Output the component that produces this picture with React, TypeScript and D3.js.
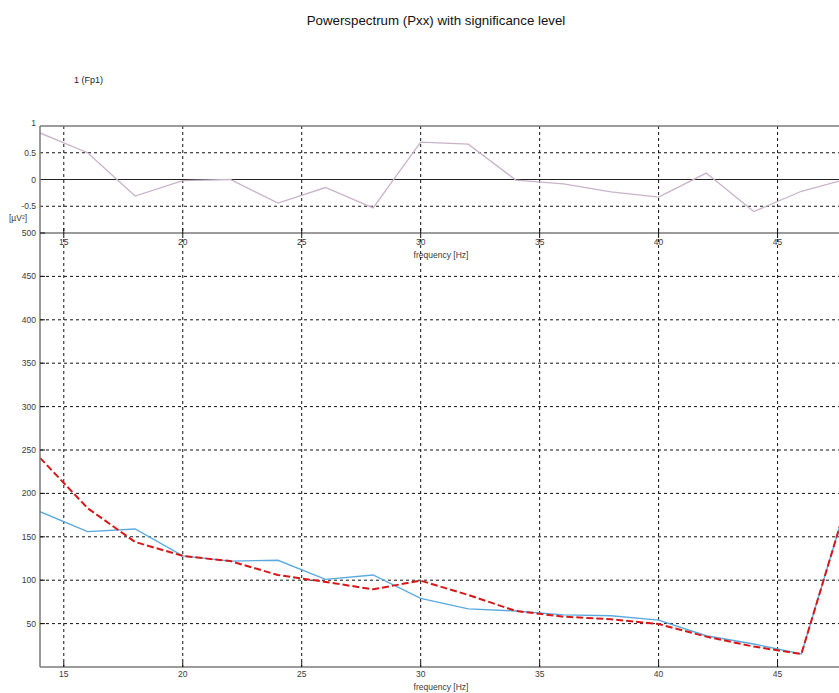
import React from "react";
import * as d3 from "d3";

const title = "Powerspectrum (Pxx) with significance level";
const channelLabel = "1 (Fp1)";
const xLabel = "frequency [Hz]";
const yUnit = "[µV²]";

const freqs = [14, 16, 18, 20, 22, 24, 26, 28, 30, 32, 34, 36, 38, 40, 42, 44, 46, 48];
const diffValues = [0.87, 0.5, -0.31, -0.02, 0.0, -0.44, -0.15, -0.53, 0.7, 0.66, -0.01, -0.08, -0.23, -0.33, 0.12, -0.6, -0.22, 0.02];
const pxxValues = [179, 156, 159, 128, 122, 123, 101, 106, 79, 67, 64.5, 60, 59, 54, 36, 26.5, 15, 197];
const sigValues = [241, 183, 144, 128, 122, 106, 98, 89.5, 99.5, 83, 64.5, 58, 55, 49.5, 35, 23.5, 15, 197];

const xTicks = [15, 20, 25, 30, 35, 40, 45];
const topYTicks = [1, 0.5, 0, -0.5];
const topGrid = [0.5, -0.5];
const bottomYTicks = [500, 450, 400, 350, 300, 250, 200, 150, 100, 50];

const W = 839;
const H = 693;
const left = 40;
const right = 843;
const topTop = 126;
const topBottom = 233;
const botTop = 233;
const botBottom = 667;

export default function App() {
  const x = d3.scaleLinear().domain([14, 47.75]).range([left, right]);
  const yTop = d3.scaleLinear().domain([-1, 1]).range([topBottom, topTop]);
  const yBot = d3.scaleLinear().domain([0, 500]).range([botBottom, botTop]);

  const lineTop = d3.line<number>().x((_, i) => x(freqs[i])).y((d) => yTop(d));
  const lineBot = d3.line<number>().x((_, i) => x(freqs[i])).y((d) => yBot(d));

  const font = "Liberation Sans, Arial, sans-serif";
  const tickColor = "#3a3a3a";
  const axisColor = "#7a7a7a";
  const gridDash = "3,3";

  return (
    <svg width={W} height={H} style={{ position: "absolute", left: 0, top: 0, background: "#fff" }} fontFamily={font}>
      <defs>
        <clipPath id="clipTop">
          <rect x={left} y={topTop} width={W - left} height={topBottom - topTop} />
        </clipPath>
        <clipPath id="clipBot">
          <rect x={left} y={botTop} width={W - left} height={botBottom - botTop} />
        </clipPath>
      </defs>
      <rect x={0} y={0} width={W} height={H} fill="#fff" />
      <text x={436} y={25} textAnchor="middle" fontSize={13.3} fill="#111">{title}</text>
      <text x={74} y={83} fontSize={9} fill="#222">{channelLabel}</text>

      {/* Top subplot */}
      <g>
        {xTicks.map((t) => (
          <line key={"tv" + t} x1={x(t)} x2={x(t)} y1={topTop} y2={topBottom} stroke="#111" strokeWidth={1} strokeDasharray={gridDash} />
        ))}
        {topGrid.map((t) => (
          <line key={"th" + t} x1={left} x2={W} y1={yTop(t)} y2={yTop(t)} stroke="#111" strokeWidth={1} strokeDasharray={gridDash} />
        ))}
        <line x1={left} x2={W} y1={yTop(0)} y2={yTop(0)} stroke="#222" strokeWidth={1.2} />
        <path d={lineTop(diffValues) || ""} fill="none" stroke="#c9b3c9" strokeWidth={1.3} clipPath="url(#clipTop)" />
        <line x1={left} x2={W} y1={topTop} y2={topTop} stroke={axisColor} strokeWidth={1.5} />
        <line x1={left} x2={W} y1={topBottom} y2={topBottom} stroke={axisColor} strokeWidth={1.5} />
        <line x1={left} x2={left} y1={topTop} y2={topBottom} stroke={axisColor} strokeWidth={1.5} />
        {xTicks.map((t) => (
          <g key={"tt" + t}>
            <line x1={x(t)} x2={x(t)} y1={topBottom - 5} y2={topBottom + 5} stroke="#111" strokeWidth={1} />
            <text x={x(t)} y={245} textAnchor="middle" fontSize={8.5} fill={tickColor}>{t}</text>
          </g>
        ))}
        {topYTicks.map((t) => (
          <text key={"ty" + t} x={36} y={(t === 1 ? yTop(t) - 3 : yTop(t)) + 3} textAnchor="end" fontSize={8.5} fill={tickColor}>{t}</text>
        ))}
        <text x={441} y={258} textAnchor="middle" fontSize={8.5} fill={tickColor}>{xLabel}</text>
        <text x={9} y={221} fontSize={8.5} fill={tickColor}>{yUnit}</text>
      </g>

      {/* Bottom subplot */}
      <g>
        {xTicks.map((t) => (
          <line key={"bv" + t} x1={x(t)} x2={x(t)} y1={botTop + 6} y2={botBottom} stroke="#111" strokeWidth={1} strokeDasharray={gridDash} />
        ))}
        {bottomYTicks.filter((t) => t !== 500).map((t) => (
          <line key={"bh" + t} x1={left} x2={W} y1={yBot(t)} y2={yBot(t)} stroke="#111" strokeWidth={1} strokeDasharray={gridDash} />
        ))}
        <g clipPath="url(#clipBot)">
          <path d={lineBot(pxxValues) || ""} fill="none" stroke="#5aaae0" strokeWidth={1.4} />
          <path d={lineBot(sigValues) || ""} fill="none" stroke="#d81818" strokeWidth={2} strokeDasharray="7,3" />
        </g>
        <line x1={left} x2={left} y1={botTop} y2={botBottom} stroke={axisColor} strokeWidth={1.5} />
        <line x1={left} x2={W} y1={botBottom} y2={botBottom} stroke={axisColor} strokeWidth={1.5} />
        {xTicks.map((t) => (
          <g key={"bt" + t}>
            <line x1={x(t)} x2={x(t)} y1={botBottom - 5} y2={botBottom} stroke="#111" strokeWidth={1} />
            <text x={x(t)} y={677} textAnchor="middle" fontSize={8.5} fill={tickColor}>{t}</text>
          </g>
        ))}
        {bottomYTicks.map((t) => (
          <g key={"by" + t}>
            <line x1={left} x2={left + 5} y1={yBot(t)} y2={yBot(t)} stroke="#111" strokeWidth={1} />
            <text x={36} y={yBot(t) + 3} textAnchor="end" fontSize={8.5} fill={tickColor}>{t}</text>
          </g>
        ))}
        <text x={441} y={690} textAnchor="middle" fontSize={8.5} fill={tickColor}>{xLabel}</text>
      </g>
    </svg>
  );
}
